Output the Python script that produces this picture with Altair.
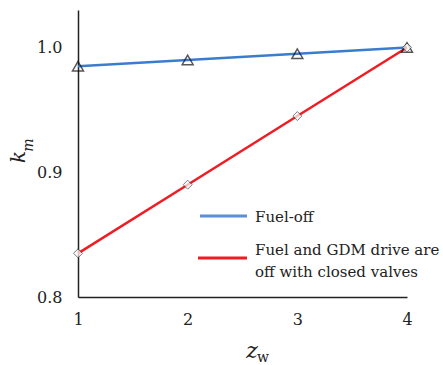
import altair as alt
import pandas as pd

zw = [1, 2, 3, 4]
fuel_off = [0.985, 0.990, 0.995, 1.000]
fuel_gdm = [0.835, 0.890, 0.945, 1.000]
series_names = ["Fuel-off", "Fuel and GDM drive are off with closed valves"]
y_ticks = [0.8, 0.9, 1.0]
x_ticks = [1, 2, 3, 4]

df = pd.DataFrame({
    "zw": zw * 2,
    "km": fuel_off + fuel_gdm,
    "series": [series_names[0]] * 4 + [series_names[1]] * 4,
})

FONT = "DejaVu Serif"
BLUE = "#3a7dcf"
RED = "#f01c24"
TXT = "#222222"

xs = alt.Scale(domain=[1, 4], nice=False)
ys = alt.Scale(domain=[0.8, 1.03], nice=False, zero=False)
color = alt.Color("series:N", scale=alt.Scale(domain=series_names, range=[BLUE, RED]), legend=None)

base = alt.Chart(df)

lines = base.mark_line(strokeWidth=2.5).encode(
    x=alt.X("zw:Q", scale=xs, axis=alt.Axis(values=x_ticks, format="d", title=None, grid=False, ticks=False,
                                             domainColor="#222", domainWidth=1.5, labelFont=FONT,
                                             labelFontSize=16, labelColor=TXT, labelPadding=14,
                                             labelFlush=False)),
    y=alt.Y("km:Q", scale=ys, axis=alt.Axis(values=y_ticks, format=".1f", title=None, grid=False, ticks=False,
                                             domainColor="#222", domainWidth=1.5, labelFont=FONT,
                                             labelFontSize=16, labelColor=TXT, labelPadding=16,
                                             labelFlush=False)),
    color=color,
)

tri = alt.Chart(df[df.series == series_names[0]]).mark_point(
    shape="triangle-up", filled=False, stroke="#111", strokeWidth=1.5, size=120
).encode(x=alt.X("zw:Q", scale=xs), y=alt.Y("km:Q", scale=ys))

dia = alt.Chart(df[df.series == series_names[1]]).mark_point(
    shape="diamond", filled=True, fill="white", stroke="#444", strokeWidth=1, size=80
).encode(x=alt.X("zw:Q", scale=xs), y=alt.Y("km:Q", scale=ys))

leg_df = pd.DataFrame({"t": [0]})
leg_blue = alt.Chart(leg_df).mark_rule(color="#5b8fd6", strokeWidth=3).encode(
    x=alt.value(122), x2=alt.value(169), y=alt.value(206))
leg_red = alt.Chart(leg_df).mark_rule(color=RED, strokeWidth=3).encode(
    x=alt.value(120), x2=alt.value(169), y=alt.value(248))
leg_t1 = alt.Chart(leg_df).mark_text(align="left", baseline="middle", font=FONT, fontSize=15, color=TXT,
                                     text="Fuel-off").encode(x=alt.value(177), y=alt.value(207))
leg_t2 = alt.Chart(leg_df).mark_text(align="left", baseline="middle", font=FONT, fontSize=15, color=TXT,
                                     text="Fuel and GDM drive are").encode(x=alt.value(177), y=alt.value(240))
leg_t3 = alt.Chart(leg_df).mark_text(align="left", baseline="middle", font=FONT, fontSize=15, color=TXT,
                                     text="off with closed valves").encode(x=alt.value(177), y=alt.value(262))

xt1 = alt.Chart(leg_df).mark_text(font=FONT, fontSize=22, fontStyle="italic", color=TXT, text="z",
                                  baseline="alphabetic").encode(x=alt.value(174), y=alt.value(348))
xt2 = alt.Chart(leg_df).mark_text(font=FONT, fontSize=14, color=TXT, text="w",
                                  baseline="alphabetic").encode(x=alt.value(185), y=alt.value(352))
yt1 = alt.Chart(leg_df).mark_text(font=FONT, fontSize=20, fontStyle="italic", color=TXT, text="k",
                                  angle=270, baseline="alphabetic").encode(x=alt.value(-53), y=alt.value(147))
yt2 = alt.Chart(leg_df).mark_text(font=FONT, fontSize=14, fontStyle="italic", color=TXT, text="m",
                                  angle=270, baseline="alphabetic").encode(x=alt.value(-45), y=alt.value(135))

chart = alt.layer(lines, tri, dia, leg_blue, leg_red, leg_t1, leg_t2, leg_t3, xt1, xt2, yt1, yt2).properties(
    width=329, height=287,
    autosize=alt.AutoSizeParams(type="none"),
    padding={"left": 78, "top": 10, "right": 36, "bottom": 68},
    background="white",
).configure_view(stroke=None)

chart.save("out.html", embed_options={"renderer": "svg", "actions": False})
